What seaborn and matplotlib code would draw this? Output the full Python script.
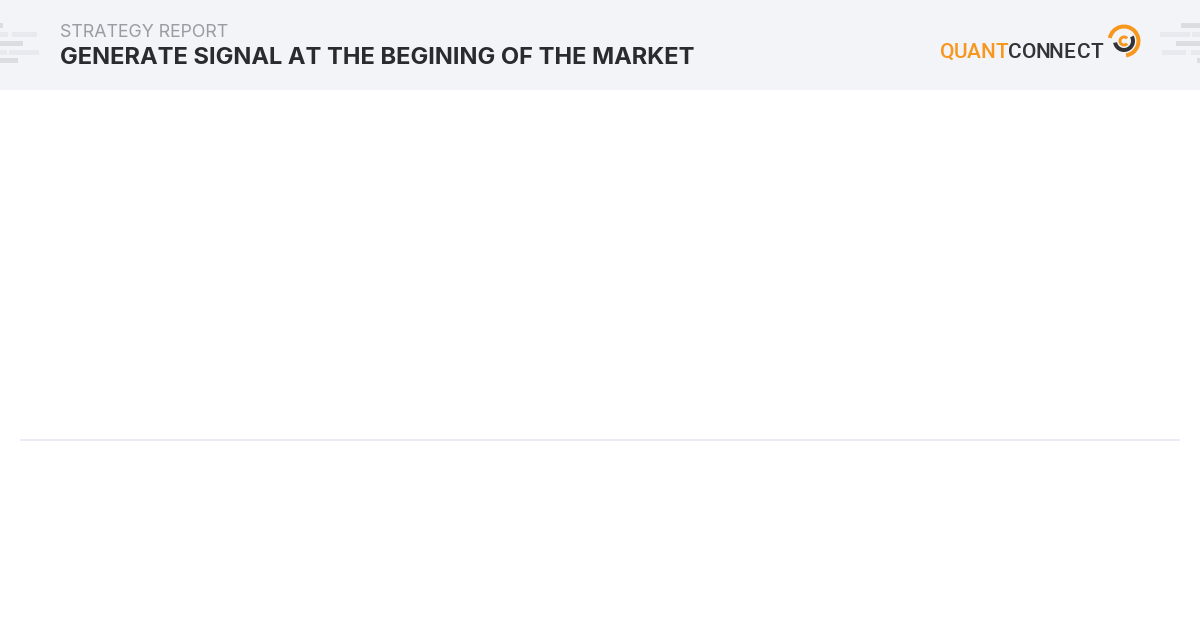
import numpy as np
import matplotlib
matplotlib.use("Agg")
import matplotlib.pyplot as plt
import seaborn as sns
import pandas as pd
from matplotlib.patches import Rectangle, Wedge

# report text
report_kind = "STRATEGY REPORT"
report_title = "GENERATE SIGNAL AT THE BEGINING OF THE MARKET"
logo_orange = "QUANT"
logo_dark = "CONNECT"

# the backtest series is empty in the reference, only the zero line is shown
series_dates = []
series_values = []
zero_level = 0

sns.set_theme(style="white")
plt.rcParams['font.family'] = ['Inter', 'DejaVu Sans']

W, H = 1200, 630
fig = plt.figure(figsize=(12, 6.3), dpi=100)
fig.patch.set_facecolor("white")

# main chart area (empty line chart with a zero line)
ax = fig.add_axes([20 / W, 30 / H, 1160 / W, 480 / H])
df = pd.DataFrame({"date": pd.to_datetime(series_dates), "value": pd.Series(series_values, dtype=float)})
sns.lineplot(data=df, x="date", y="value", ax=ax, color="#f5a623")
ax.axhline(zero_level, color="#e4e5f4", lw=1.1)
ax.set_xlim(0, 1)
ax.set_ylim(-1.0, 2.0)
ax.set_axis_off()

# header overlay in pixel coordinates (y from the bottom)
hd = fig.add_axes([0, 0, 1, 1], zorder=5)
hd.set_xlim(0, W)
hd.set_ylim(0, H)
hd.set_axis_off()
hd.patch.set_alpha(0)

def ty(y):
    return H - y

hd.add_patch(Rectangle((0, ty(90)), W, 90, color="#f3f4f8", lw=0))

# decorative dashes left/right
dark_c = "#dcdde1"
light_c = "#e8e9ee"
left_bars = [(0, 23, 3, dark_c), (0, 32, 8, light_c), (12, 32, 25, light_c),
             (0, 41, 23, dark_c), (0, 50, 7, light_c), (9, 50, 30, light_c),
             (0, 58, 18, dark_c)]
right_bars = [(1181, 23, 19, dark_c), (1160, 32, 30, light_c), (1192, 32, 8, light_c),
              (1176, 41, 24, dark_c), (1162, 50, 24, light_c), (1191, 50, 9, light_c),
              (1197, 58, 3, dark_c)]
for x0, y0, w, c in left_bars + right_bars:
    hd.add_patch(Rectangle((x0, ty(y0 + 5)), w, 5, color=c, lw=0))

hd.text(60, ty(37), report_kind, fontsize=12.8, color="#9a9ba3", va="baseline", ha="left")
hd.text(60, ty(63.5), report_title, fontsize=17.05, color="#2b2b2e",
        fontweight="bold", va="baseline", ha="left")

# logo letters, spaced out one by one
orange = "#f7971e"
letters = logo_orange + logo_dark
pitch = 164 / len(letters)
for i, ch in enumerate(letters):
    col = orange if i < len(logo_orange) else "#333336"
    hd.text(940 + pitch * (i + 0.5), ty(57.5), ch, fontsize=15, color=col,
            family=['Roboto', 'DejaVu Sans'],
            fontweight="medium", ha="center", va="baseline")

# logo icon
cx, cy = 1124, ty(41)
hd.add_patch(Wedge((cx, cy), 16.5, -82, 168, width=4, color=orange, lw=0))
hd.add_patch(Wedge((cx, cy), 11, -170, 30, width=4, color="#333336", lw=0))
hd.add_patch(Wedge((cx, cy), 5.5, 40, 320, width=3, color=orange, lw=0))

fig.savefig("out.png", dpi=100, facecolor="white")
